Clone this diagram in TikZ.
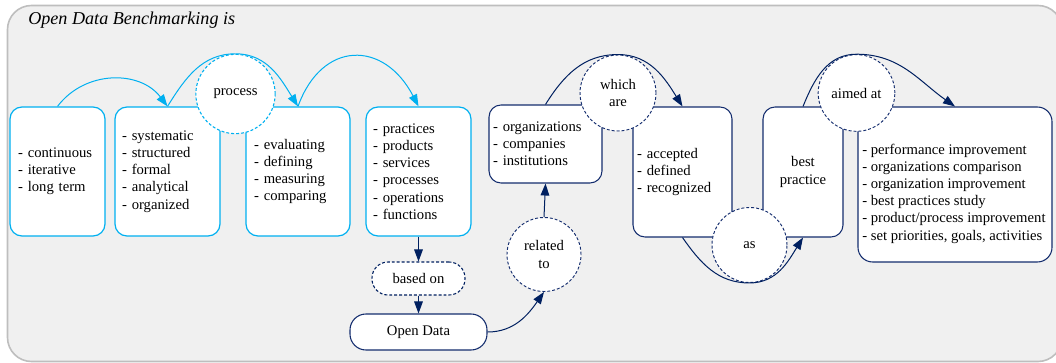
\documentclass[tikz,border=0pt]{standalone}
\usepackage{fontspec}
\setmainfont{Liberation Serif}
\usetikzlibrary{arrows.meta}
\definecolor{lblue}{RGB}{0,176,240}
\definecolor{navy}{RGB}{0,32,96}
\definecolor{navyline}{RGB}{20,45,110}
\definecolor{bgfill}{RGB}{240,240,240}
\definecolor{bgline}{RGB}{190,190,190}
\tikzset{
  txt/.style={font=\fontsize{11}{12.9}\selectfont, text=black},
  lbox/.style={txt, draw=lblue, line width=0.9pt, fill=white, rounded corners=9pt,
               minimum height=96.75pt, align=left, inner ysep=0pt},
  dbox/.style={txt, draw=navyline, line width=0.8pt, fill=white, rounded corners=9pt,
               align=left, inner ysep=0pt},
  lcirc/.style={txt, circle, draw=lblue, line width=0.8pt, dash pattern=on 2.2pt off 1.5pt,
                fill=white, align=center, inner sep=0pt},
  dcirc/.style={txt, circle, draw=navyline, line width=0.7pt, dash pattern=on 2.2pt off 1.5pt,
                fill=white, align=center, inner sep=0pt},
  larr/.style={draw=lblue, line width=0.75pt, -{Triangle[length=9pt,width=6.5pt]}},
  lline/.style={draw=lblue, line width=0.75pt},
  darr/.style={draw=navy, line width=0.75pt, -{Triangle[length=9pt,width=6.5pt]}},
  dline/.style={draw=navy, line width=0.75pt},
}
\begin{document}
\begin{tikzpicture}[x=0.75pt,y=-0.75pt]
\useasboundingbox (0,0) rectangle (1056,363);
\draw[fill=bgfill, draw=bgline, line width=1.2pt, rounded corners=18pt] (7.5,5.5) rectangle (1062,361.5);
\node[anchor=west, font=\fontsize{13.6}{16}\selectfont\itshape, text=black, inner sep=0pt] (title) at (28,20) {Open Data Benchmarking is};

% light blue boxes
\node[lbox, text width=59.25pt, inner xsep=6pt] (b1) at (57.5,171.5) {- continuous\\- iterative\\- long term};
\node[lbox, text width=68.25pt, inner xsep=5.25pt] (b2) at (167.5,171.5) {- systematic\\- structured\\- formal\\- analytical\\- organized};
\node[lbox, text width=66pt, inner xsep=6pt] (b3) at (298,171.5) {- evaluating\\- defining\\- measuring\\- comparing};
\node[lbox, text width=68.25pt, inner xsep=5.25pt] (b4) at (418.5,171.5) {- practices\\- products\\- services\\- processes\\- operations\\- functions};

% dark boxes
\node[dbox, draw=navy, dash pattern=on 2.2pt off 1.5pt, rounded corners=12pt, minimum width=69.75pt, minimum height=24.75pt, align=center] (based) at (418.5,278.5) {based on};
\node[dbox, rounded corners=12pt, minimum width=102.75pt, minimum height=27pt, align=center] (od) at (418.5,332) {Open Data};
\node[dbox, text width=78.75pt, inner xsep=3pt, minimum height=58.5pt] (org) at (545.5,144) {- organizations\\- companies\\- institutions};
\node[dbox, text width=68.25pt, inner xsep=3pt, minimum height=97.5pt] (acc) at (682.5,172) {- accepted\\- defined\\- recognized};
\node[dbox, text width=54pt, inner xsep=3pt, minimum height=97.5pt, align=center] (bp) at (803,172) {best\\practice};
\node[dbox, rounded corners=11pt, minimum width=145.5pt, minimum height=116.25pt] (rb) at (955,184.5) {};
\node[txt, anchor=west, align=left, inner sep=0pt] (rbt) at (862,193.5) {- performance improvement\\- organizations comparison\\- organization improvement\\- best practices study\\- product/process improvement\\- set priorities, goals, activities};

% circles
\node[lcirc, minimum size=59.5pt] (proc) at (235.5,94) {process};
\node[dcirc, minimum size=55.5pt] (rel) at (544,254.5) {related\\to};
\node[dcirc, minimum size=57pt] (wa) at (618,93) {which\\are};
\node[dcirc, minimum size=56.25pt] (as) at (749.5,245) {as};
\node[dcirc, minimum size=57.5pt] (aim) at (856.5,93) {aimed at};

% light blue connectors
\draw[larr] (b1.north) .. controls (85,70) and (140,70) .. (b2.north);
\draw[lline] (b2.north) to[out=58,in=180] (proc.north);
\draw[larr] (proc.north) to[out=0,in=122] (b3.north);
\draw[larr] (b3.north) .. controls (322,40) and (384,40) .. (b4.north);

% dark connectors
\draw[darr] (b4.south) -- (based.north);
\draw[darr] (based.south) -- (od.north);
\draw[darr] (od.east) to[out=0,in=235] (rel.south);
\draw[darr] (rel.north) -- (org.south);
\draw[dline] (org.north) to[out=58,in=180] (wa.north);
\draw[darr] (wa.north) to[out=0,in=122] (acc.north);
\draw[dline] (acc.south) to[out=-55,in=180] (as.south);
\draw[darr] (as.south) to[out=0,in=-122] (bp.south);
\draw[dline] (bp.north) to[out=68,in=180] (aim.north);
\draw[darr] (aim.north) to[out=0,in=145] (rb.north);
\end{tikzpicture}
\end{document}
